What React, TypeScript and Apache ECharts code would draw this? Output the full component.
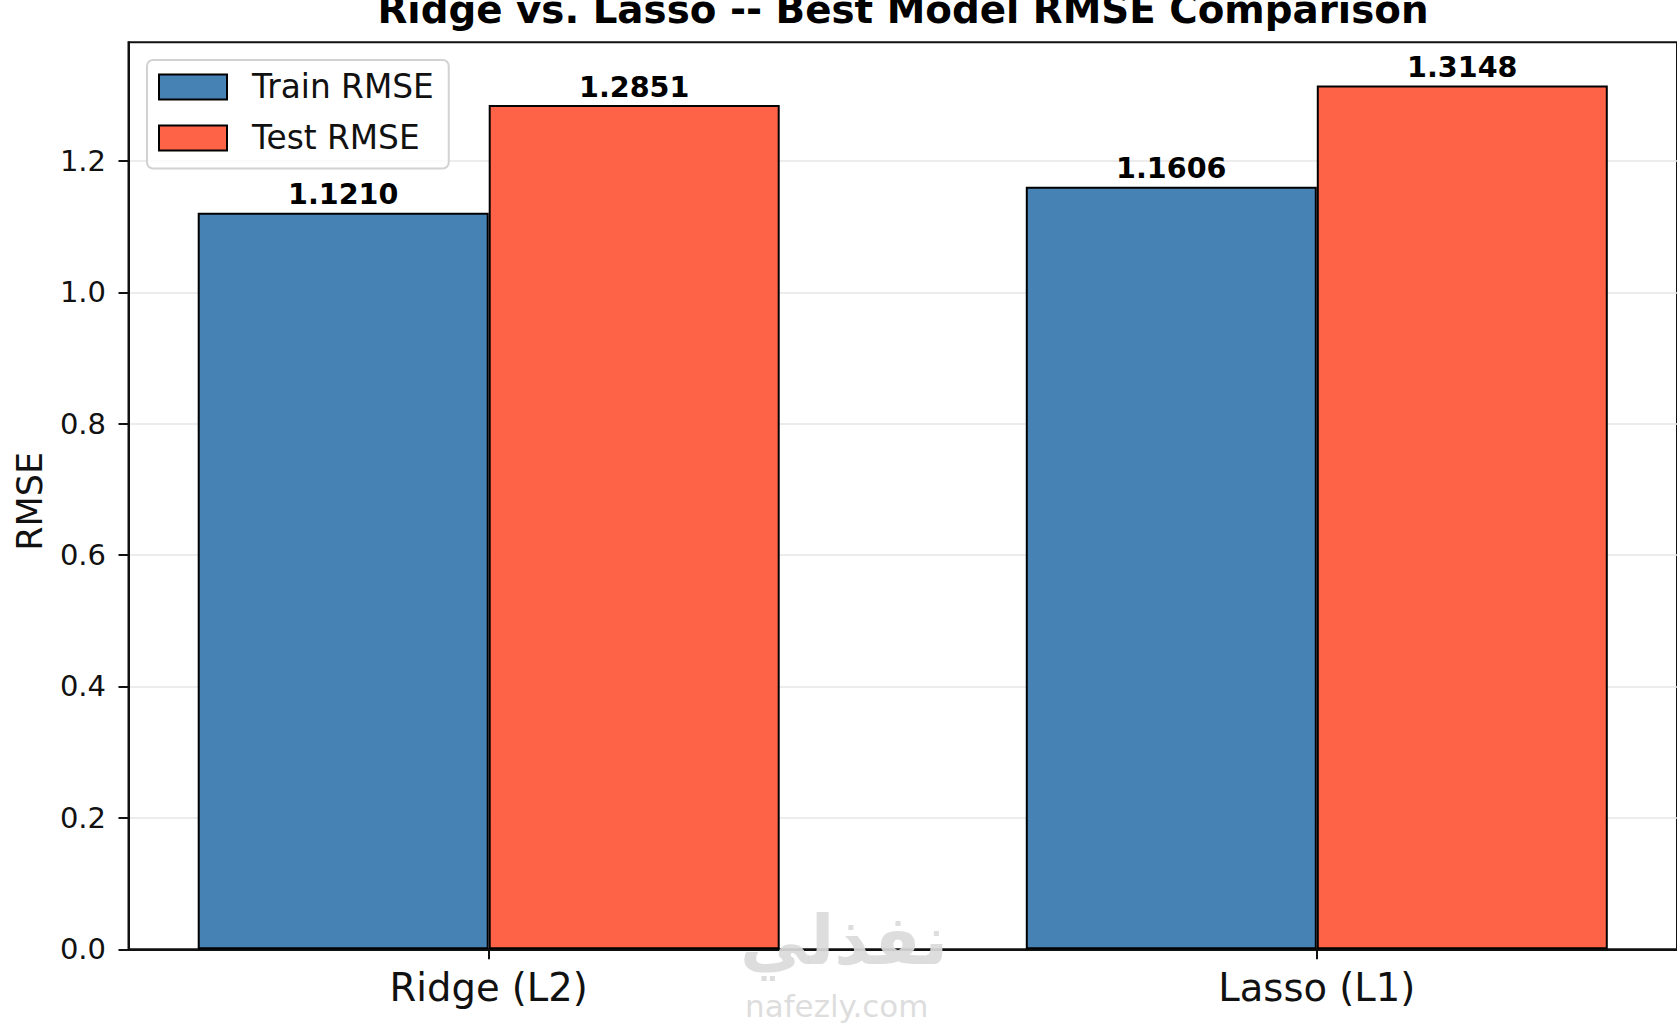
import React, { useEffect, useRef } from "react";
import * as echarts from "echarts";

const categories = ["Ridge (L2)", "Lasso (L1)"];
const trainRmse = [1.121, 1.1606];
const testRmse = [1.2851, 1.3148];
const yTicks = [0, 0.2, 0.4, 0.6, 0.8, 1.0, 1.2];
const xTicks = [0, 1];
const seriesNames = ["Train RMSE", "Test RMSE"];
const titleText = "Ridge vs. Lasso -- Best Model RMSE Comparison";
const yAxisTitle = "RMSE";
const watermarkArabic = "نفذلي";
const watermarkLatin = "nafezly.com";

const FONT = "DejaVu Sans";

export default function App() {
  const ref = useRef<HTMLDivElement>(null);

  useEffect(() => {
    document.body.style.margin = "0";
    document.body.style.overflow = "hidden";
    if (!ref.current) return;
    const chart = echarts.init(ref.current, undefined, { renderer: "svg" });

    const barLabel = {
      show: true,
      position: "top",
      distance: 4,
      fontFamily: FONT,
      fontWeight: "bold",
      fontSize: 28.6,
      lineHeight: 28.6,
      color: "#000",
      formatter: (p: any) => Number(p.value[1]).toFixed(4),
    };

    const option: any = {
      animation: false,
      backgroundColor: "#fff",
      textStyle: { fontFamily: FONT },
      title: {
        text: titleText,
        left: 903,
        textAlign: "center",
        top: -11,
        padding: 0,
        textStyle: {
          fontFamily: FONT,
          fontWeight: "bold",
          fontSize: 38.8,
          lineHeight: 40,
          color: "#000",
        },
      },
      legend: {
        left: 147,
        top: 60,
        orient: "vertical",
        padding: [10.5, 15, 14, 11],
        itemGap: 18,
        itemWidth: 68,
        itemHeight: 25,
        backgroundColor: "rgba(255,255,255,0.8)",
        borderColor: "#d2d2d2",
        borderWidth: 2,
        borderRadius: 6,
        icon: "rect",
        itemStyle: { borderColor: "#000", borderWidth: 2 },
        textStyle: {
          fontFamily: FONT,
          fontSize: 32.8,
          lineHeight: 32,
          color: "#111",
          padding: [0, 0, 0, 20],
        },
        data: seriesNames,
      },
      grid: {
        left: 128.5,
        top: 42.3,
        right: -1.1,
        bottom: 1024 - 949.3,
        show: true,
        borderColor: "#111",
        borderWidth: 2,
        backgroundColor: "transparent",
        containLabel: false,
      },
      xAxis: {
        type: "value",
        min: -0.435,
        max: 1.435,
        splitLine: { show: false },
        axisLine: { show: true, onZero: false, lineStyle: { color: "#111", width: 2 } },
        axisTick: {
          show: true,
          length: 10,
          inside: false,
          customValues: xTicks,
          lineStyle: { color: "#111", width: 2 },
        },
        axisLabel: {
          customValues: xTicks,
          margin: 18.5,
          fontFamily: FONT,
          fontSize: 38.5,
          lineHeight: 38.5,
          color: "#111",
          formatter: (v: number) => categories[Math.round(v)] ?? "",
        },
      },
      yAxis: {
        type: "value",
        min: 0,
        max: 1.3805,
        interval: 0.2,
        name: yAxisTitle,
        nameLocation: "middle",
        nameGap: 98.5,
        nameTextStyle: {
          fontFamily: FONT,
          fontSize: 35,
          lineHeight: 35,
          color: "#111",
          verticalAlign: "middle",
          padding: [0, 11, 0, 0],
        },
        axisLine: { show: true, onZero: false, lineStyle: { color: "#111", width: 2 } },
        axisTick: {
          show: true,
          length: 10,
          inside: false,
          customValues: yTicks,
          lineStyle: { color: "#111", width: 2 },
        },
        axisLabel: {
          customValues: yTicks,
          margin: 22.5,
          fontFamily: FONT,
          fontSize: 29,
          lineHeight: 29,
          color: "#111",
          formatter: (v: number) => Number(v).toFixed(1),
        },
        splitLine: {
          show: true,
          lineStyle: { color: "#e6e6e6", width: 1.5 },
        },
      },
      series: [
        {
          name: seriesNames[0],
          type: "bar",
          barWidth: 291,
          data: trainRmse.map((v, i) => [i, v]),
          itemStyle: { color: "#4682B4", borderColor: "#000", borderWidth: 2 },
          label: barLabel,
          z: 3,
        },
        {
          name: seriesNames[1],
          type: "bar",
          barWidth: 291,
          barGap: "0%",
          data: testRmse.map((v, i) => [i, v]),
          itemStyle: { color: "#FF6347", borderColor: "#000", borderWidth: 2 },
          label: barLabel,
          z: 3,
        },
      ],
      graphic: [
        {
          type: "text",
          z: 100,
          left: 740,
          top: 906,
          style: {
            text: watermarkArabic,
            fontFamily: FONT,
            fontWeight: "bold",
            fontSize: 68,
            lineHeight: 56,
            fill: "rgba(218,218,218,0.92)",
          },
        },
        {
          type: "text",
          z: 100,
          left: 745,
          top: 990,
          style: {
            text: watermarkLatin,
            fontFamily: FONT,
            fontSize: 31,
            lineHeight: 31,
            fill: "rgba(218,218,218,0.92)",
          },
        },
      ],
    };

    chart.setOption(option);
    return () => chart.dispose();
  }, []);

  return <div ref={ref} style={{ width: 1677, height: 1024 }} />;
}
